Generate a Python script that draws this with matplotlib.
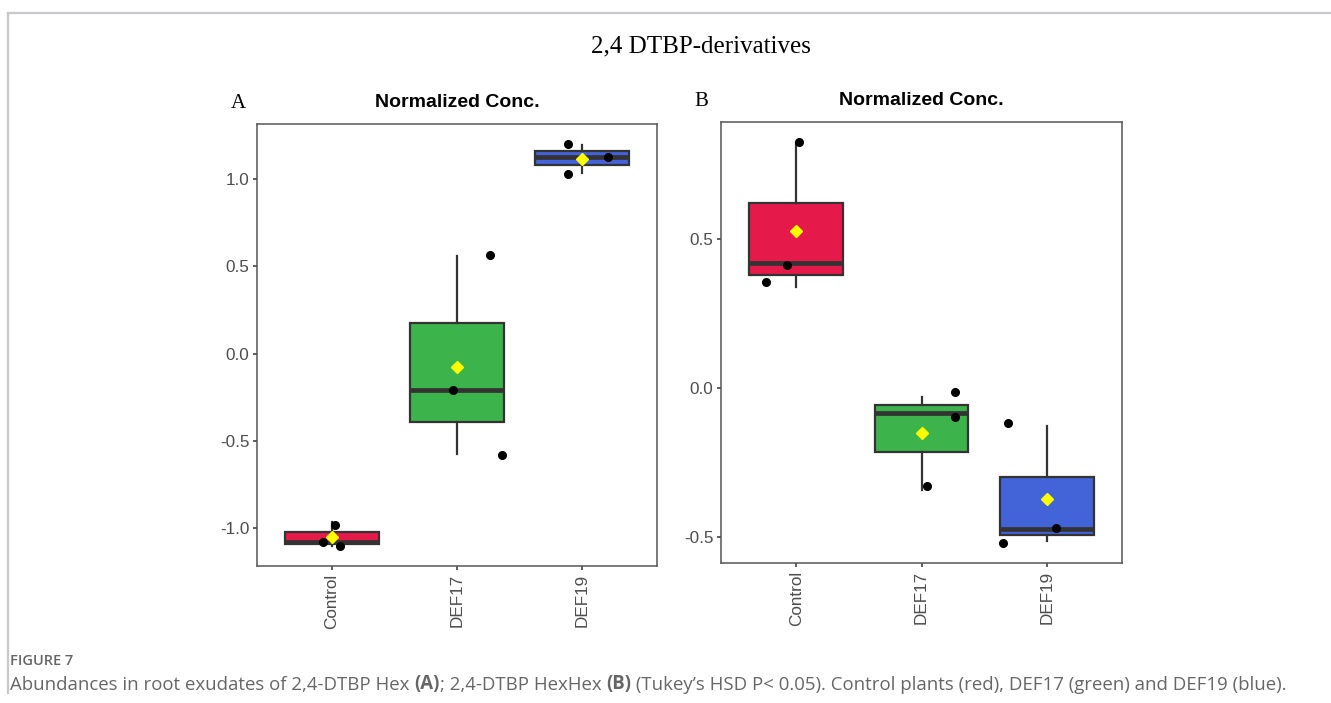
import matplotlib
matplotlib.use('Agg')
import matplotlib.pyplot as plt
from matplotlib.lines import Line2D
from matplotlib.ticker import MultipleLocator, FormatStrFormatter
import numpy as np

plt.rcParams['font.family'] = 'Liberation Sans'
plt.rcParams['axes.unicode_minus'] = False

groups = ['Control', 'DEF17', 'DEF19']
colors = ['#E6194B', '#3CB44B', '#4363D8']

# A: 2,4-DTBP Hex -- values behind the boxes, and the jittered points as drawn
hex_vals = [[-0.965, -1.08, -1.10], [0.56, -0.21, -0.572], [1.194, 1.124, 1.034]]
hex_pts_y = [[-0.98, -1.08, -1.10], [0.566, -0.21, -0.577], [1.20, 1.124, 1.027]]
hex_pts_dx = [[0.02, -0.075, 0.06], [0.26, -0.03, 0.36], [-0.11, 0.21, -0.11]]

# B: 2,4-DTBP HexHex
hexhex_vals = [[0.823, 0.418, 0.339], [-0.031, -0.084, -0.345], [-0.129, -0.473, -0.515]]
hexhex_pts_y = [[0.825, 0.411, 0.353], [-0.015, -0.10, -0.33], [-0.117, -0.47, -0.522]]
hexhex_pts_dx = [[0.02, -0.077, -0.24], [0.27, 0.27, 0.045], [-0.31, 0.07, -0.35]]

W, H = 1331, 703
fig = plt.figure(figsize=(W / 100, H / 100), dpi=100)


def panel(rect, vals, pts_y, pts_dx):
    ax = fig.add_axes(rect)
    pos = np.arange(1, len(groups) + 1)
    bp = ax.boxplot(vals, positions=pos, widths=0.75, whis=(0, 100),
                    showcaps=False, showfliers=False, patch_artist=True,
                    boxprops=dict(edgecolor='#333333', linewidth=1.6),
                    whiskerprops=dict(color='#333333', linewidth=1.6),
                    medianprops=dict(color='#333333', linewidth=3.4))
    for patch, c in zip(bp['boxes'], colors):
        patch.set_facecolor(c)
    for i in range(len(groups)):
        ax.plot(pos[i] + np.array(pts_dx[i]), pts_y[i], 'o', color='black',
                ms=5.5, zorder=4)
    # group means
    ax.plot(pos, [np.mean(v) for v in vals], 'D', color='#FFFF00',
            mec='#FFFF00', ms=6.5, zorder=5)
    ax.set_xlim(0.4, 3.6)
    lo = min(min(p) for p in pts_y)
    hi = max(max(p) for p in pts_y)
    pad = 0.05 * (hi - lo)
    ax.set_ylim(lo - pad, hi + pad)
    ax.set_xticks(pos)
    ax.set_xticklabels(groups, rotation=90)
    ax.yaxis.set_major_locator(MultipleLocator(0.5))
    ax.yaxis.set_major_formatter(FormatStrFormatter('%.1f'))
    ax.tick_params(direction='out', length=3, width=1.1, color='#333333',
                   labelcolor='#4D4D4D', labelsize=12.3, pad=2.5)
    for s in ax.spines.values():
        s.set_color('#555555')
        s.set_linewidth(1.1)
    ax.set_title('Normalized Conc.', fontsize=14, fontweight='bold', pad=12)
    return ax


axA = panel([257 / W, 1 - 566 / H, 400 / W, 442 / H], hex_vals, hex_pts_y, hex_pts_dx)
axB = panel([721 / W, 1 - 563.3 / H, 401 / W, 441.6 / H], hexhex_vals, hexhex_pts_y, hexhex_pts_dx)

# outer frame lines
fig.add_artist(Line2D([8 / W, 1], [1 - 13 / H, 1 - 13 / H], color='#c8c8cc', lw=1.6))
fig.add_artist(Line2D([8 / W, 8 / W], [1 - 13 / H, 1 - 693 / H], color='#c8c8cc', lw=1.6))

fig.text(701 / W, 1 - 46 / H, '2,4 DTBP-derivatives', family='Liberation Serif',
         fontsize=18, ha='center', va='center')
fig.text(238 / W, 1 - 104 / H, 'A', family='Liberation Serif', fontsize=15,
         ha='center', va='center')
fig.text(701 / W, 1 - 102 / H, 'B', family='Liberation Serif', fontsize=15,
         ha='center', va='center')

cap_col = '#666666'
fig.text(10 / W, 1 - 661 / H, 'FIGURE 7', family='Open Sans', fontweight='semibold',
         fontsize=10.5, color=cap_col, va='center')

pieces = [('Abundances in root exudates of 2,4-DTBP Hex ', 'normal'),
          ('(A)', 'bold'),
          ('; 2,4-DTBP HexHex ', 'normal'),
          ('(B)', 'bold'),
          (" (Tukey\u2019s HSD P< 0.05). Control plants (red), DEF17 (green) and DEF19 (blue).", 'normal')]
cap_size = 13.4
prev = fig.text(10 / W, 1 - 690 / H, pieces[0][0], family='Open Sans',
                fontsize=cap_size, color=cap_col, va='baseline')
for txt, wt in pieces[1:]:
    prev = plt.annotate(txt, xy=(1, 0), xycoords=prev, va='bottom', ha='left',
                        family='Open Sans', fontsize=cap_size, color=cap_col,
                        fontweight=wt, annotation_clip=False)

plt.savefig('out.png', dpi=100)
